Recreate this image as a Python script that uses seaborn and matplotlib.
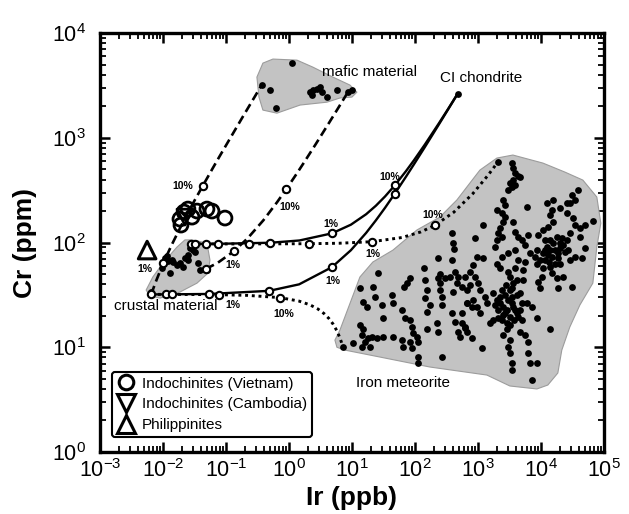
import numpy as np
import matplotlib
matplotlib.use("Agg")
import matplotlib.pyplot as plt
import seaborn as sns
from matplotlib.patches import Polygon
from matplotlib.lines import Line2D
from matplotlib.ticker import LogLocator, NullFormatter, LogFormatterSciNotation

# ---------------- data ----------------
# mixing curves (Ir ppb, Cr ppm)
ci_low_ir = [0.0065, 0.0113, 0.0545, 0.487, 1.45, 4.81, 9.61, 16.8, 24.0, 33.6, 48.0, 72.0, 96.0, 144, 240, 336, 480]
ci_low_cr = [32, 32.0, 32.3, 34.6, 39.9, 58.2, 84.4, 123.6, 162.9, 215, 293.8, 424.7, 555.6, 817, 1341, 1865, 2650]
ci_up_ir = [0.028, 0.0328, 0.076, 0.508, 1.47, 4.83, 9.63, 16.8, 24.0, 33.6, 48.0, 72.0, 96.0, 144, 240, 336, 480]
ci_up_cr = [97, 97.0, 97.3, 99.6, 104.7, 122.5, 148.1, 186.4, 224.7, 275.7, 352.3, 480, 607.6, 863, 1374, 1884, 2650]
fe_up_ir = [0.028, 0.0488, 0.236, 2.10, 6.25, 20.8, 62.3, 124.5, 207.5, 415, 830, 1453, 2075]
fe_up_cr = [97, 97.0, 97.05, 97.5, 98.5, 101.9, 111.7, 126.4, 146, 195, 293, 440, 587]
fe_low_ir = [0.0065, 0.0072, 0.0137, 0.0784, 0.222, 0.726, 1.445, 2.165, 2.884, 3.603, 4.323, 5.042, 5.761, 6.481, 6.84, 7.2]
fe_low_cr = [32, 32, 32.0, 31.8, 31.3, 29.8, 27.6, 25.4, 23.2, 21.0, 18.8, 16.6, 14.4, 12.2, 11.1, 10.0]
maf1_ir = [0.0065, 0.0076, 0.0101, 0.0138, 0.0210, 0.0319, 0.0429, 0.0610, 0.0792, 0.1156, 0.188, 0.261, 0.37]
maf1_cr = [32, 41.5, 63.7, 95.4, 158.7, 253.8, 348.8, 507, 666, 982, 1616, 2250, 3200]
maf2_ir = [0.048, 0.0738, 0.134, 0.220, 0.392, 0.650, 0.908, 1.338, 1.768, 2.629, 4.35, 6.07, 8.65]
maf2_cr = [56, 64, 82.8, 109.6, 163, 243.5, 323.9, 458, 592, 860, 1396, 1931, 2735]

# open-circle mixing-step markers
step_ir = [0.0065, 0.0113, 0.0545, 0.487, 4.81, 48.0,
           0.028, 0.0328, 0.076, 0.508, 4.83, 48.0,
           0.0488, 0.236, 2.10, 20.8, 207.5,
           0.0137, 0.0784, 0.726,
           0.0101, 0.0429,
           0.048, 0.134, 0.908]
step_cr = [32, 32.0, 32.3, 34.6, 58.2, 293.8,
           97, 97.0, 97.3, 99.6, 122.5, 352.3,
           97.0, 97.05, 97.5, 101.9, 146,
           32.0, 31.8, 29.8,
           63.7, 348.8,
           56, 82.8, 323.9]

# CI chondrite end-member
ci_ir = [480]
ci_cr = [2650]

# tektites
viet_ir = [0.0186, 0.0216, 0.0249, 0.0289, 0.0347, 0.0499, 0.060, 0.0964, 0.0193]
viet_cr = [167.6, 195.6, 208.9, 175.0, 199.9, 208.9, 199.9, 171.4, 146.9]
camb_ir = [0.0223]
camb_cr = [175]
phil_ir = [0.0056]
phil_cr = [84.8]

# crustal material samples and field
crust_ir = [0.0064, 0.0108, 0.0120, 0.0139, 0.0144, 0.0129, 0.0167, 0.0186, 0.0208, 0.0223, 0.0249,
            0.0249, 0.0268, 0.0289, 0.0299, 0.0322, 0.036, 0.0387, 0.0464, 0.0499, 0.0098, 0.0115]
crust_cr = [33.7, 71.1, 66.6, 68.1, 65.2, 51.1, 61.0, 63.7, 58.4, 71.1, 76.0,
            68.1, 88.5, 94.7, 84.7, 81.2, 63.7, 54.6, 55.9, 54.6, 57.0, 74.0]
crust_field_ir = [0.0289, 0.0499, 0.0557, 0.0518, 0.0347, 0.0186, 0.0090, 0.0062, 0.0054, 0.0069, 0.0100, 0.0167, 0.0223]
crust_field_cr = [106, 98.9, 68.1, 51.1, 41.0, 33.7, 29.5, 30.9, 35.2, 46.9, 63.7, 90.6, 106]

# mafic material samples and field
mafic_ir = [0.37, 0.50, 1.12, 0.62, 2.15, 2.40, 2.78, 3.10, 3.34, 2.32, 4.01, 5.78, 8.65, 10.0]
mafic_cr = [3200, 2860, 5170, 1920, 2730, 2860, 2920, 3050, 2730, 2560, 2450, 2860, 2735, 2860]
mafic_field_ir = [0.31, 0.386, 0.557, 1.34, 2.40, 4.99, 9.3, 12.0, 10.0, 6.45, 4.01, 1.50, 0.645, 0.386, 0.334]
mafic_field_cr = [3800, 5170, 5650, 5520, 4730, 3800, 3190, 2730, 2450, 2400, 2190, 2055, 1720, 1840, 2450]

# iron meteorite field
iron_field_ir = [5.78, 5.37, 6.45, 13.4, 21.5, 44.8, 108, 249, 464, 747, 1077, 2004, 3594, 10770, 24050,
                 46400, 77400, 89500, 77400, 66900, 41600, 28800, 21500, 18600, 12900, 8650, 3220, 1390,
                 173, 27.8, 7.74]
iron_field_cr = [10.0, 11.7, 14.6, 46.9, 65.2, 84.7, 132, 175, 255, 370, 492, 641, 685, 574, 471,
                 395, 272, 153, 90.6, 41.0, 25.3, 15.6, 9.4, 5.68, 4.36, 4.0, 4.27, 5.43,
                 6.48, 8.07, 9.4]

# iron meteorite analyses, log10 values
iron_log_ir = [1.41, 2.59, 2.60, 2.62, 2.37, 2.59, 2.14, 2.40, 2.37, 2.40, 2.40, 2.43, 2.48, 2.56, 2.63, 2.68,
               2.67, 2.75, 2.60, 1.92, 1.87, 1.83, 2.16, 2.19, 2.16, 2.24, 2.19, 2.43, 2.59, 2.63, 2.68, 2.75,
               2.79, 2.83, 1.13, 1.33, 1.37, 1.18, 1.24, 1.48, 1.64, 1.65, 1.49, 1.79, 1.84, 1.92, 1.95, 1.97,
               2.03, 2.05, 2.19, 2.35, 2.37, 1.13, 1.18, 1.16, 1.25, 1.21, 1.32, 1.40, 1.49, 1.65, 1.79, 1.92,
               1.81, 1.95, 2.05, 2.05, 2.43, 1.02, 0.86, 1.16, 1.29,
               3.32, 3.54, 3.56, 3.59, 3.64, 3.67, 3.56, 3.51, 3.54, 3.48, 3.59, 3.40, 3.43, 3.30, 3.38, 3.43,
               3.78, 3.40, 3.56, 3.35, 3.32, 3.30, 3.27, 3.38, 3.59, 3.64, 3.70, 3.75, 3.79, 3.83, 3.59, 3.48,
               3.38, 3.30, 3.35, 3.08, 2.95, 3.08, 2.98, 2.92, 2.87, 2.79, 2.95, 3.00, 2.87, 2.83, 3.03, 3.11,
               2.92, 2.83, 2.75, 2.90, 2.98, 3.03, 2.79, 2.83, 2.71, 2.90, 3.06,
               3.24, 3.30, 3.35, 3.40, 3.32, 3.46, 3.40, 3.51, 3.38, 3.46, 3.56, 3.54, 3.51, 3.56, 3.51, 3.62,
               3.48, 3.59, 3.67, 3.70, 3.64, 3.46, 3.40, 3.51, 3.48, 3.51, 3.54, 3.54, 3.67, 3.75, 3.79, 3.79,
               3.83, 3.94, 3.86, 3.78, 3.86, 3.94, 4.14, 3.71, 3.71, 3.75, 3.64, 3.24, 3.19, 3.14,
               3.43, 3.48, 3.54, 3.59, 3.43, 3.35, 3.62, 3.51, 3.57, 3.32, 3.67, 3.70, 3.27, 3.44, 3.54, 3.62, 3.38,
               3.95, 4.03, 4.11, 4.19, 4.14, 4.17, 4.10, 4.19, 4.30, 4.41, 4.46, 4.54, 4.59, 4.49, 4.41, 4.51,
               4.54, 4.62, 4.70, 4.83, 4.62, 4.46, 4.41, 4.33, 4.25, 4.19, 4.14, 4.10, 4.03, 3.98, 3.94, 4.06,
               4.17, 4.27, 4.30, 4.22, 4.30, 4.14, 4.03, 4.02, 4.17, 4.25, 4.35, 4.46, 4.54, 4.65, 4.70, 4.38,
               4.43, 3.95, 3.98, 4.27, 4.49, 3.94, 3.90, 4.06, 4.14, 4.22, 4.11, 4.30, 4.35, 4.06, 4.27, 4.13]
iron_log_cr = [1.71, 2.09, 2.00, 1.94, 1.85, 1.83, 1.76, 1.70, 1.66, 1.61, 1.55, 1.48, 1.66, 1.67, 1.72, 1.67,
               1.61, 1.58, 1.53, 1.66, 1.61, 1.58, 1.64, 1.55, 1.47, 1.40, 1.34, 1.40, 1.33, 1.24, 1.15, 1.23,
               1.18, 1.42, 1.57, 1.58, 1.48, 1.43, 1.38, 1.40, 1.50, 1.42, 1.28, 1.36, 1.28, 1.26, 1.19, 1.14,
               1.10, 1.05, 1.17, 1.23, 1.15, 1.21, 1.17, 1.12, 1.09, 1.05, 1.10, 1.09, 1.10, 1.10, 1.07, 1.05,
               1.00, 0.99, 0.91, 0.85, 0.91, 1.04, 1.00, 1.00, 1.00,
               2.77, 2.76, 2.71, 2.66, 2.64, 2.63, 2.60, 2.57, 2.53, 2.50, 2.55, 2.41, 2.36, 2.31, 2.28, 2.24,
               2.34, 2.20, 2.20, 2.14, 2.09, 2.02, 1.96, 2.05, 2.10, 2.05, 2.02, 1.98, 2.07, 1.90, 1.93, 1.90,
               1.86, 1.80, 1.76, 2.17, 2.04, 1.85, 1.86, 1.79, 1.72, 1.67, 1.67, 1.61, 1.59, 1.55, 1.55, 1.48,
               1.45, 1.42, 1.33, 1.38, 1.38, 1.33, 1.19, 1.15, 1.10, 1.09, 0.99,
               1.52, 1.45, 1.42, 1.38, 1.36, 1.36, 1.31, 1.29, 1.26, 1.23, 1.38, 1.48, 1.55, 1.61, 1.67, 1.64,
               1.72, 1.76, 1.52, 1.42, 1.29, 1.17, 1.12, 1.07, 1.00, 0.95, 0.85, 0.78, 1.15, 1.12, 1.05, 0.95,
               0.85, 0.85, 0.69, 1.42, 1.38, 1.28, 1.17, 1.64, 1.74, 1.81, 1.83, 1.26, 1.23, 1.42,
               1.50, 1.45, 1.42, 1.36, 1.33, 1.48, 1.33, 1.21, 1.26, 1.28, 1.36, 1.26, 1.40, 1.59, 1.57, 1.50, 1.55,
               2.07, 2.12, 2.15, 2.20, 2.26, 2.31, 2.38, 2.41, 2.33, 2.28, 2.38, 2.41, 2.50, 2.45, 2.38, 2.23,
               2.17, 2.14, 2.17, 2.21, 2.05, 2.09, 2.02, 2.04, 2.05, 2.00, 1.93, 1.96, 1.90, 1.83, 1.80, 1.83,
               1.86, 1.90, 1.95, 1.80, 1.80, 1.77, 1.76, 1.67, 1.71, 1.66, 1.67, 1.83, 1.86, 1.85, 1.95, 1.91,
               1.93, 1.62, 1.57, 1.57, 1.58, 1.93, 1.86, 2.02, 2.02, 1.93, 1.88, 2.00, 1.98, 1.93, 1.85, 1.81]

legend_labels = ["Indochinites (Vietnam)", "Indochinites (Cambodia)", "Philippinites"]

# ---------------- style ----------------
sns.set_theme(style="ticks")
plt.rcParams.update({
    "font.family": ["Liberation Sans", "DejaVu Sans"],
    "mathtext.fontset": "custom",
    "mathtext.rm": "Liberation Sans",
    "mathtext.it": "Liberation Sans:italic",
    "mathtext.bf": "Liberation Sans:bold",
    "mathtext.default": "regular",
    "axes.facecolor": "white",
    "figure.facecolor": "white",
    "text.color": "black",
    "axes.labelcolor": "black",
    "xtick.color": "black",
    "ytick.color": "black",
})

fig = plt.figure(figsize=(6.29, 5.14), dpi=100)
ax = fig.add_axes([0.159, 0.1206, 0.801, 0.815])
ax.set_xscale("log")
ax.set_yscale("log")
ax.set_xlim(1e-3, 1e5)
ax.set_ylim(1, 1e4)

FILL = "#c3c3c3"
EDGE = "#9c9c9c"
for fx, fy in [(crust_field_ir, crust_field_cr), (mafic_field_ir, mafic_field_cr), (iron_field_ir, iron_field_cr)]:
    ax.add_patch(Polygon(np.column_stack([fx, fy]), closed=True, fc=FILL, ec=EDGE, lw=0.8,
                         joinstyle="round", zorder=1))

iron_ir = 10 ** np.array(iron_log_ir)
iron_cr = 10 ** np.array(iron_log_cr)
dot_kw = dict(color="black", s=24, linewidth=0, ax=ax, zorder=3, legend=False)
sns.scatterplot(x=iron_ir, y=iron_cr, **dot_kw)
sns.scatterplot(x=crust_ir, y=crust_cr, **dot_kw)
sns.scatterplot(x=mafic_ir, y=mafic_cr, **dot_kw)
sns.scatterplot(x=ci_ir, y=ci_cr, **dot_kw)

# mixing lines
ax.plot(ci_low_ir, ci_low_cr, color="black", lw=1.7, zorder=4)
ax.plot(ci_up_ir, ci_up_cr, color="black", lw=1.7, zorder=4)
ax.plot(fe_up_ir, fe_up_cr, color="black", lw=2.1, ls=(0, (1, 1.3)), zorder=4)
ax.plot(fe_low_ir, fe_low_cr, color="black", lw=2.1, ls=(0, (1, 1.3)), zorder=4)
ax.plot(maf1_ir, maf1_cr, color="black", lw=1.9, ls=(0, (3.4, 1.8)), zorder=4)
ax.plot(maf2_ir, maf2_cr, color="black", lw=1.9, ls=(0, (3.4, 1.8)), zorder=4)

sns.scatterplot(x=step_ir, y=step_cr, marker="o", s=28, facecolor="white", edgecolor="black",
                linewidth=1.5, ax=ax, zorder=5, legend=False)

# tektites
sns.scatterplot(x=viet_ir, y=viet_cr, marker="o", s=100, facecolor="none", edgecolor="black",
                linewidth=2.0, ax=ax, zorder=6, legend=False)
sns.scatterplot(x=camb_ir, y=camb_cr, marker="v", s=130, facecolor="none", edgecolor="black",
                linewidth=2.0, ax=ax, zorder=6, legend=False)
sns.scatterplot(x=phil_ir, y=phil_cr, marker="^", s=160, facecolor="none", edgecolor="black",
                linewidth=2.2, ax=ax, zorder=6, legend=False)

# percent labels
pct = [("10%", 0.0208, 346), ("10%", 1.04, 218), ("1%", 0.0052, 55.9), ("1%", 0.129, 61),
       ("1%", 4.64, 150), ("1%", 4.99, 42.9), ("1%", 0.129, 25.3), ("10%", 0.83, 20.8),
       ("1%", 21.5, 77.6), ("10%", 40.1, 422), ("10%", 193, 183)]
for t, xx, yy in pct:
    ax.text(xx, yy, t, fontsize=7.5, fontweight="bold", color="black", ha="center", va="center", zorder=7)

lab_kw = dict(fontsize=11, ha="center", va="center", zorder=7, color="black")
ax.text(19.3, 4245, "mafic material", **lab_kw)
ax.text(1117, 3720, "CI chondrite", **lab_kw)
ax.text(0.0112, 24.8, "crustal material", **lab_kw)
ax.text(64.5, 4.56, "Iron meteorite", **lab_kw)

# legend
handles = [Line2D([], [], marker="o", ms=10.5, mfc="white", mec="black", mew=2.2, ls="none"),
           Line2D([], [], marker="v", ms=13, mfc="white", mec="black", mew=2.2, ls="none"),
           Line2D([], [], marker="^", ms=13, mfc="white", mec="black", mew=2.2, ls="none")]
leg = ax.legend(handles, legend_labels, loc="lower left", bbox_to_anchor=(0.024, 0.036),
                borderaxespad=0, frameon=True, fancybox=True, fontsize=11, handletextpad=0.45,
                labelspacing=0.45, borderpad=0.3, handlelength=1.2, framealpha=1)
leg.get_frame().set_edgecolor("black")
leg.get_frame().set_linewidth(1.5)
leg.set_zorder(8)

# axes styling
for s in ax.spines.values():
    s.set_linewidth(2.4)
    s.set_color("black")
    s.set_visible(True)
ax.xaxis.set_major_locator(LogLocator(base=10, numticks=20))
ax.yaxis.set_major_locator(LogLocator(base=10, numticks=20))
ax.xaxis.set_minor_locator(LogLocator(base=10, subs=np.arange(2, 10), numticks=200))
ax.yaxis.set_minor_locator(LogLocator(base=10, subs=np.arange(2, 10), numticks=200))
ax.xaxis.set_major_formatter(LogFormatterSciNotation())
ax.yaxis.set_major_formatter(LogFormatterSciNotation())
ax.xaxis.set_minor_formatter(NullFormatter())
ax.yaxis.set_minor_formatter(NullFormatter())
ax.tick_params(which="both", direction="in", top=True, right=True, colors="black")
ax.tick_params(which="major", length=7, width=1.8, labelsize=15.5)
ax.tick_params(which="minor", length=4, width=1.3)
ax.tick_params(axis="x", which="major", pad=5)
ax.tick_params(axis="y", which="major", pad=10)

ax.set_xlabel("Ir (ppb)", fontsize=19, fontweight="bold", color="black")
ax.set_ylabel("Cr (ppm)", fontsize=19, fontweight="bold", color="black")
ax.xaxis.set_label_coords(0.5, -0.08)
ax.yaxis.set_label_coords(-0.125, 0.5)

fig.savefig("out.png", dpi=100)
